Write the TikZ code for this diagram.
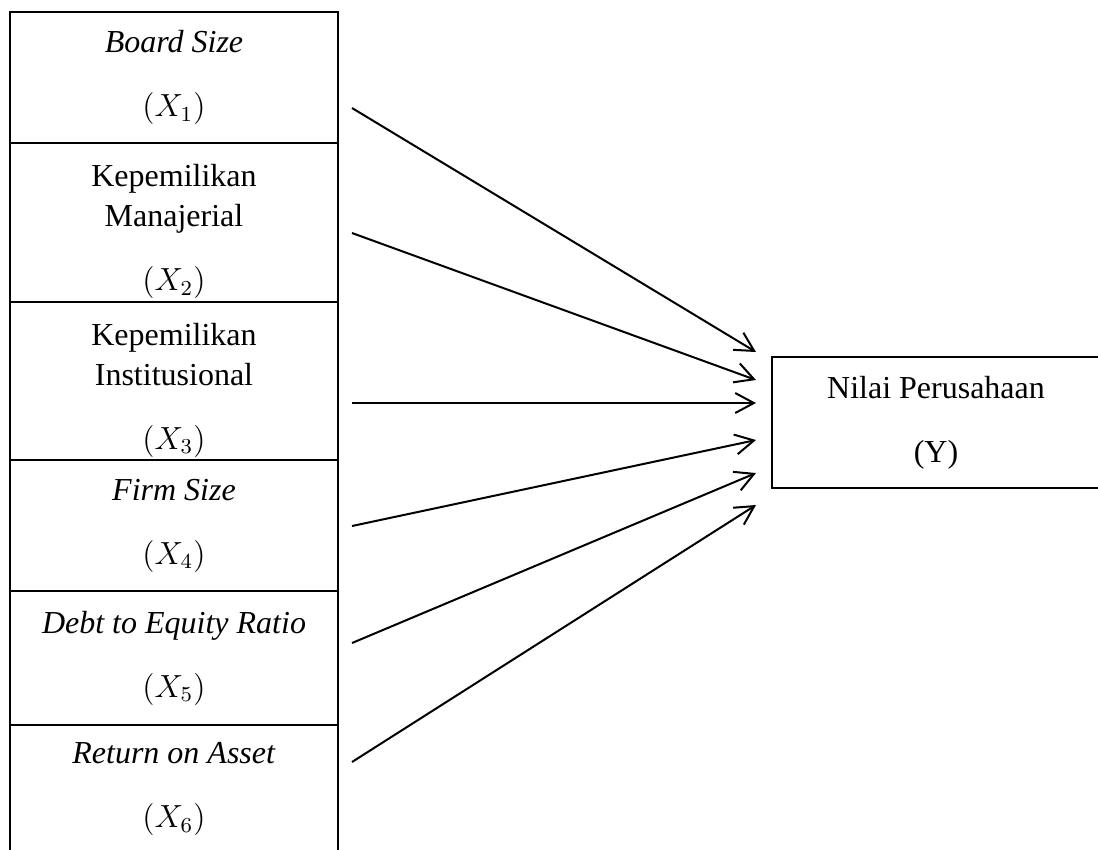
\documentclass[tikz,border=0pt]{standalone}
\usepackage{fontspec}
\setmainfont{Liberation Serif}
\usetikzlibrary{arrows.meta}

\begin{document}
\begin{tikzpicture}[
    x=0.375pt, y=-0.375pt,
    var/.style={
        draw=black,
        line width=0.8pt,
        minimum width=123pt,
        align=center,
        inner sep=0pt,
        font=\fontsize{12}{15}\selectfont
    },
    arr/.style={
        -{Straight Barb[length=7pt,width=7.5pt]},
        line width=0.75pt
    }
]

%--- batas gambar ---
\useasboundingbox (0,0) rectangle (1098,849);

%--- variabel independen ---
\node[var, minimum height=49.1pt] (x1) at (174, 77.5)
    {\textit{Board Size}\\[9pt]$(X_1)$};
\node[var, minimum height=59.6pt] (x2) at (174, 222.5)
    {\rule{0pt}{15pt}Kepemilikan\\Manajerial\\[9pt]$(X_2)$};
\node[var, minimum height=59.3pt] (x3) at (174, 381)
    {\rule{0pt}{15pt}Kepemilikan\\Institusional\\[9pt]$(X_3)$};
\node[var, minimum height=49.1pt] (x4) at (174, 525.5)
    {\textit{Firm Size}\\[9pt]$(X_4)$};
\node[var, minimum height=50.3pt] (x5) at (174, 658)
    {\textit{Debt to Equity Ratio}\\[9pt]$(X_5)$};
\node[var, minimum height=48pt] (x6) at (174, 789)
    {\textit{Return on Asset}\\[9pt]$(X_6)$};

%--- variabel dependen ---
\node[var, minimum height=49.1pt] (y) at (936, 422.5)
    {Nilai Perusahaan\\[9pt](Y)};

%--- titik ujung panah ---
\coordinate (s1) at (352, 108);
\coordinate (s2) at (352, 233);
\coordinate (s3) at (352, 403);
\coordinate (s4) at (352, 526);
\coordinate (s5) at (352, 643);
\coordinate (s6) at (352, 762);

\coordinate (t1) at (756, 352);
\coordinate (t2) at (756, 380);
\coordinate (t3) at (756, 403);
\coordinate (t4) at (756, 440);
\coordinate (t5) at (756, 473);
\coordinate (t6) at (756, 505);

%--- panah pengaruh: X -> Y ---
\foreach \i in {1,...,6}
    \draw[arr] (s\i) -- (t\i);

\end{tikzpicture}
\end{document}
